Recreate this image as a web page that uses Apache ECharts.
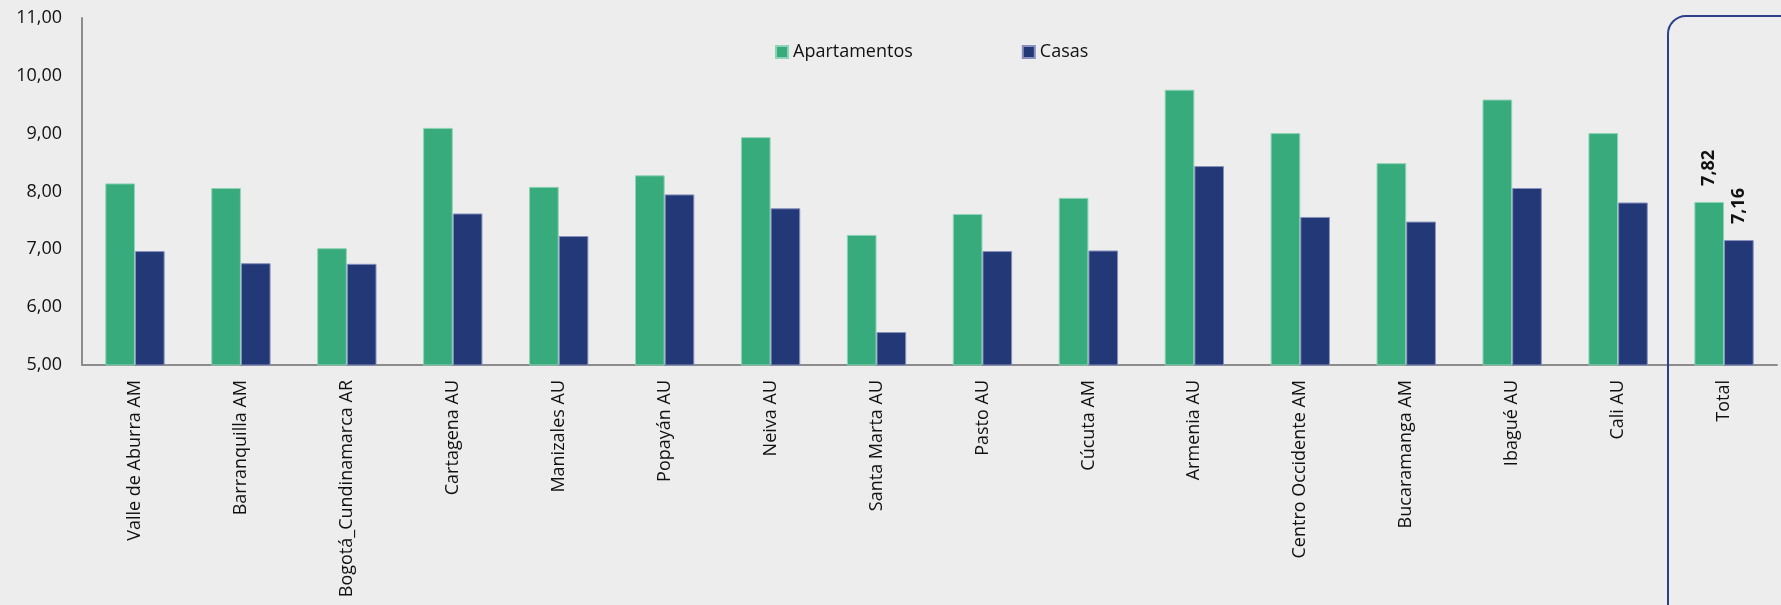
<!DOCTYPE html>
<html>
<head>
<meta charset="utf-8">
<script src="https://cdn.jsdelivr.net/npm/echarts@6/dist/echarts.min.js"></script>
<style>
html,body{margin:0;padding:0;background:#ededed;}
#chart{width:1781px;height:605px;}
</style>
</head>
<body>
<div id="chart"></div>
<script>
const categories = ['Valle de Aburra AM','Barranquilla AM','Bogotá_Cundinamarca AR','Cartagena AU','Manizales AU','Popayán AU','Neiva AU','Santa Marta AU','Pasto AU','Cúcuta AM','Armenia AU','Centro Occidente AM','Bucaramanga AM','Ibagué AU','Cali AU','Total'];
const apartamentos = [8.14,8.06,7.02,9.10,8.08,8.28,8.94,7.25,7.61,7.89,9.76,9.01,8.49,9.59,9.01,7.82];
const casas = [6.97,6.76,6.75,7.62,7.23,7.95,7.71,5.57,6.97,6.98,8.44,7.56,7.48,8.06,7.81,7.16];
const yTicks = {min:5, max:11, interval:1};

const fmt = v => v.toFixed(2).replace('.', ',');
const FONT = '"Open Sans", sans-serif';

function withTotalLabel(arr){
  return arr.map((v,i)=> i===arr.length-1 ? {
    value:v,
    label:{show:true, position:'top', rotate:90, align:'left', verticalAlign:'middle', distance:16,
      formatter:p=>fmt(p.value), fontFamily:FONT, fontSize:18, fontWeight:'bold', color:'#111'}
  } : v);
}

const chart = echarts.init(document.getElementById('chart'));
chart.setOption({
  backgroundColor:'#ededed',
  animation:false,
  textStyle:{fontFamily:FONT},
  legend:{
    left:775, top:43, padding:0,
    itemWidth:12, itemHeight:12, itemGap:109,
    icon:'rect',
    textStyle:{fontFamily:FONT, fontSize:18, color:'#111'},
    data:['Apartamentos','Casas']
  },
  grid:{left:82, right:4, top:18, bottom:240, containLabel:false},
  xAxis:{
    type:'category',
    data:categories,
    axisLine:{show:true, lineStyle:{color:'#8c8c8c', width:2}},
    axisTick:{show:false},
    axisLabel:{rotate:90, interval:0, fontFamily:FONT, fontSize:18, color:'#111', margin:15}
  },
  yAxis:{
    type:'value',
    min:yTicks.min, max:yTicks.max, interval:yTicks.interval,
    splitLine:{show:false},
    axisLine:{show:true, lineStyle:{color:'#8c8c8c', width:2}},
    axisTick:{show:false},
    axisLabel:{formatter:v=>fmt(v), fontFamily:FONT, fontSize:18, color:'#111', margin:20}
  },
  series:[
    {name:'Apartamentos', type:'bar', data:withTotalLabel(apartamentos),
     barGap:'0%', barCategoryGap:'44%',
     itemStyle:{color:'#37ab7c', borderColor:'#8fd3b6', borderWidth:1}},
    {name:'Casas', type:'bar', data:withTotalLabel(casas),
     barGap:'0%', barCategoryGap:'44%',
     itemStyle:{color:'#233876', borderColor:'#8790bd', borderWidth:1}}
  ],
  graphic:[
    {type:'rect', z:100, silent:true,
     shape:{x:1668, y:16, width:140, height:620, r:18},
     style:{fill:'none', stroke:'#2d3f8c', lineWidth:2}}
  ]
});
</script>
</body>
</html>
